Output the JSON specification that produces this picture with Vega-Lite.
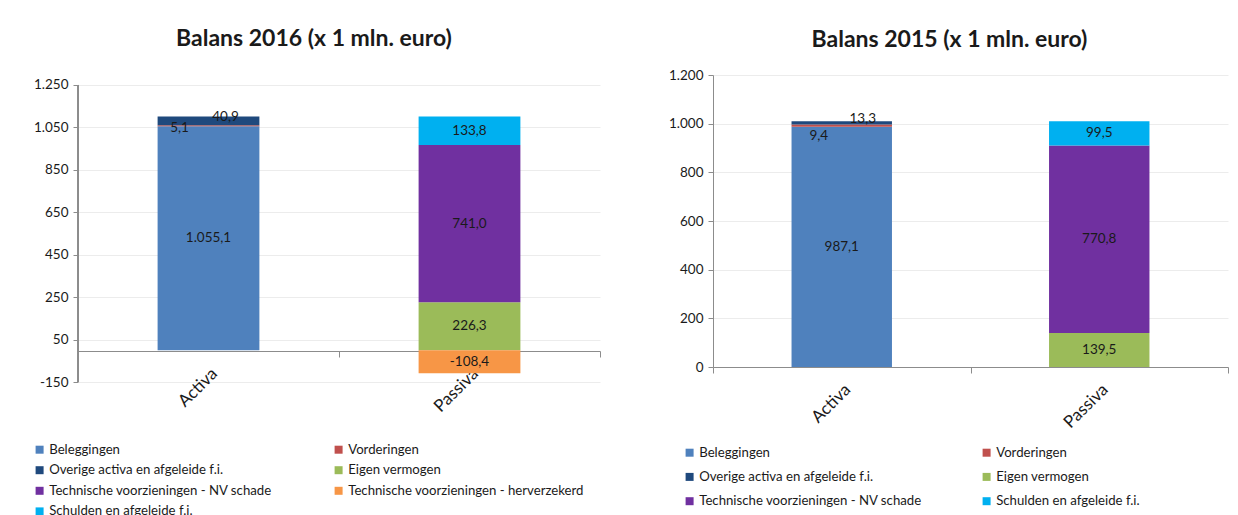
{
  "$schema": "https://vega.github.io/schema/vega-lite/v6.json",
  "background": "white",
  "padding": {"left": 33, "top": 28, "right": 5, "bottom": 5},
  "config": {
    "locale": {"number": {"decimal": ",", "thousands": ".", "grouping": [3], "currency": ["€", ""], "minus": "-"}},
    "view": {"stroke": null},
    "font": "Lato",
    "axis": {"labelFont": "Lato", "labelColor": "#1a1a1a", "domainColor": "#8c8c8c", "tickColor": "#8c8c8c", "gridColor": "#ececec", "title": null},
    "legend": {"labelFont": "Lato", "labelColor": "#1a1a1a"},
    "text": {"font": "Lato", "fontSize": 13.5, "color": "#1a1a1a"}
  },
  "datasets": {
    "b2016": [
      {"kant": "Activa", "serie": "Beleggingen", "waarde": 1055.1, "volgorde": 1},
      {"kant": "Activa", "serie": "Vorderingen", "waarde": 5.1, "volgorde": 2},
      {"kant": "Activa", "serie": "Overige activa en afgeleide f.i.", "waarde": 40.9, "volgorde": 3},
      {"kant": "Passiva", "serie": "Eigen vermogen", "waarde": 226.3, "volgorde": 4},
      {"kant": "Passiva", "serie": "Technische voorzieningen - NV schade", "waarde": 741.0, "volgorde": 5},
      {"kant": "Passiva", "serie": "Technische voorzieningen - herverzekerd", "waarde": -108.4, "volgorde": 6},
      {"kant": "Passiva", "serie": "Schulden en afgeleide f.i.", "waarde": 133.8, "volgorde": 7}
    ],
    "b2015": [
      {"kant": "Activa", "serie": "Beleggingen", "waarde": 987.1, "volgorde": 1},
      {"kant": "Activa", "serie": "Vorderingen", "waarde": 9.4, "volgorde": 2},
      {"kant": "Activa", "serie": "Overige activa en afgeleide f.i.", "waarde": 13.3, "volgorde": 3},
      {"kant": "Passiva", "serie": "Eigen vermogen", "waarde": 139.5, "volgorde": 4},
      {"kant": "Passiva", "serie": "Technische voorzieningen - NV schade", "waarde": 770.8, "volgorde": 5},
      {"kant": "Passiva", "serie": "Schulden en afgeleide f.i.", "waarde": 99.5, "volgorde": 7}
    ]
  },
  "spacing": 67,
  "resolve": {"scale": {"color": "independent", "y": "independent", "x": "independent"}, "legend": {"color": "independent"}},
  "hconcat": [
    {
      "width": 522,
      "height": 307,
      "title": {"text": "Balans 2016 (x 1 mln. euro)", "font": "Lato", "fontSize": 23, "fontWeight": "bold", "color": "#1a1a1a", "offset": 24, "dx": -25},
      "data": {"name": "b2016"},
      "encoding": {
        "x": {"field": "kant", "type": "nominal", "sort": ["Activa", "Passiva"], "scale": {"paddingInner": 0, "paddingOuter": 0},
              "axis": {"labelAngle": -45, "labelFontSize": 17, "offset": -31, "tickBand": "extent", "tickSize": 6, "labelPadding": 8, "grid": false}},
        "y": {"field": "waarde", "type": "quantitative", "stack": "zero", "scale": {"domain": [-150, 1297.1], "nice": false, "zero": false},
              "axis": {"values": [-150, 50, 250, 450, 650, 850, 1050, 1250], "format": ",d", "labelFontSize": 13.5, "tickSize": 5, "labelPadding": 5, "grid": true, "domain": false}},
        "order": {"field": "volgorde", "type": "quantitative"},
        "detail": {"field": "serie", "type": "nominal"}
      },
      "layer": [
        {
          "mark": {"type": "rule", "color": "#8c8c8c", "strokeWidth": 1},
          "encoding": {
            "x": {"datum": "Activa", "type": "nominal", "bandPosition": 0},
            "y": {"datum": -150, "type": "quantitative"},
            "y2": {"datum": 1250}
          }
        },
        {
          "mark": {"type": "bar", "width": {"band": 0.39}},
          "encoding": {
            "color": {"field": "serie", "type": "nominal",
              "scale": {"domain": ["Beleggingen", "Overige activa en afgeleide f.i.", "Technische voorzieningen - NV schade", "Schulden en afgeleide f.i.", "Vorderingen", "Eigen vermogen", "Technische voorzieningen - herverzekerd"],
                        "range": ["#4f81bd", "#1f497d", "#7030a0", "#00b0f0", "#c0504d", "#9bbb59", "#f79646"]},
              "legend": {"orient": "none", "legendX": -45, "legendY": 368, "columns": 2, "columnPadding": 60, "rowPadding": 6.6, "title": null,
                         "symbolType": "square", "symbolSize": 64, "symbolStrokeWidth": 0, "labelFontSize": 13.2, "labelOffset": 3, "labelLimit": 300}}
          }
        },
        {
          "mark": {"type": "text"},
          "encoding": {
            "y": {"field": "waarde", "type": "quantitative", "stack": "zero", "bandPosition": 0.5},
            "text": {"condition": {"test": "datum.serie !== 'Vorderingen' && datum.serie !== 'Overige activa en afgeleide f.i.'", "field": "waarde", "type": "quantitative", "format": ",.1f"}, "value": ""}
          }
        },
        {
          "mark": {"type": "text", "dx": -29, "dy": 2},
          "encoding": {
            "y": {"field": "waarde", "type": "quantitative", "stack": "zero", "bandPosition": 0.5},
            "text": {"condition": {"test": "datum.serie === 'Vorderingen'", "field": "waarde", "type": "quantitative", "format": ",.1f"}, "value": ""}
          }
        },
        {
          "mark": {"type": "text", "dx": 17, "dy": -4},
          "encoding": {
            "y": {"field": "waarde", "type": "quantitative", "stack": "zero", "bandPosition": 0.5},
            "text": {"condition": {"test": "datum.serie === 'Overige activa en afgeleide f.i.'", "field": "waarde", "type": "quantitative", "format": ",.1f"}, "value": ""}
          }
        }
      ]
    },
    {
      "width": 515,
      "height": 292,
      "title": {"text": "Balans 2015 (x 1 mln. euro)", "font": "Lato", "fontSize": 23, "fontWeight": "bold", "color": "#1a1a1a", "offset": 16, "dx": -21},
      "data": {"name": "b2015"},
      "encoding": {
        "x": {"field": "kant", "type": "nominal", "sort": ["Activa", "Passiva"], "scale": {"paddingInner": 0, "paddingOuter": 0},
              "axis": {"labelAngle": -45, "labelFontSize": 17, "tickBand": "extent", "tickSize": 6, "labelPadding": 8, "grid": false}},
        "y": {"field": "waarde", "type": "quantitative", "stack": "zero", "scale": {"domain": [0, 1200], "nice": false},
              "axis": {"values": [0, 200, 400, 600, 800, 1000, 1200], "format": ",d", "labelFontSize": 13.5, "tickSize": 5, "labelPadding": 5, "grid": true}},
        "order": {"field": "volgorde", "type": "quantitative"},
        "detail": {"field": "serie", "type": "nominal"}
      },
      "layer": [
        {
          "mark": {"type": "bar", "width": {"band": 0.39}},
          "encoding": {
            "color": {"field": "serie", "type": "nominal",
              "scale": {"domain": ["Beleggingen", "Overige activa en afgeleide f.i.", "Technische voorzieningen - NV schade", "Vorderingen", "Eigen vermogen", "Schulden en afgeleide f.i."],
                        "range": ["#4f81bd", "#1f497d", "#7030a0", "#c0504d", "#9bbb59", "#00b0f0"]},
              "legend": {"orient": "none", "legendX": -30, "legendY": 371, "columns": 2, "columnPadding": 58, "rowPadding": 10.3, "title": null,
                         "symbolType": "square", "symbolSize": 64, "symbolStrokeWidth": 0, "labelFontSize": 13.2, "labelOffset": 3, "labelLimit": 300}}
          }
        },
        {
          "mark": {"type": "text"},
          "encoding": {
            "y": {"field": "waarde", "type": "quantitative", "stack": "zero", "bandPosition": 0.5},
            "text": {"condition": {"test": "datum.serie !== 'Vorderingen' && datum.serie !== 'Overige activa en afgeleide f.i.'", "field": "waarde", "type": "quantitative", "format": ",.1f"}, "value": ""}
          }
        },
        {
          "mark": {"type": "text", "dx": -23, "dy": 10},
          "encoding": {
            "y": {"field": "waarde", "type": "quantitative", "stack": "zero", "bandPosition": 0.5},
            "text": {"condition": {"test": "datum.serie === 'Vorderingen'", "field": "waarde", "type": "quantitative", "format": ",.1f"}, "value": ""}
          }
        },
        {
          "mark": {"type": "text", "dx": 21, "dy": -4},
          "encoding": {
            "y": {"field": "waarde", "type": "quantitative", "stack": "zero", "bandPosition": 0.5},
            "text": {"condition": {"test": "datum.serie === 'Overige activa en afgeleide f.i.'", "field": "waarde", "type": "quantitative", "format": ",.1f"}, "value": ""}
          }
        }
      ]
    }
  ]
}
